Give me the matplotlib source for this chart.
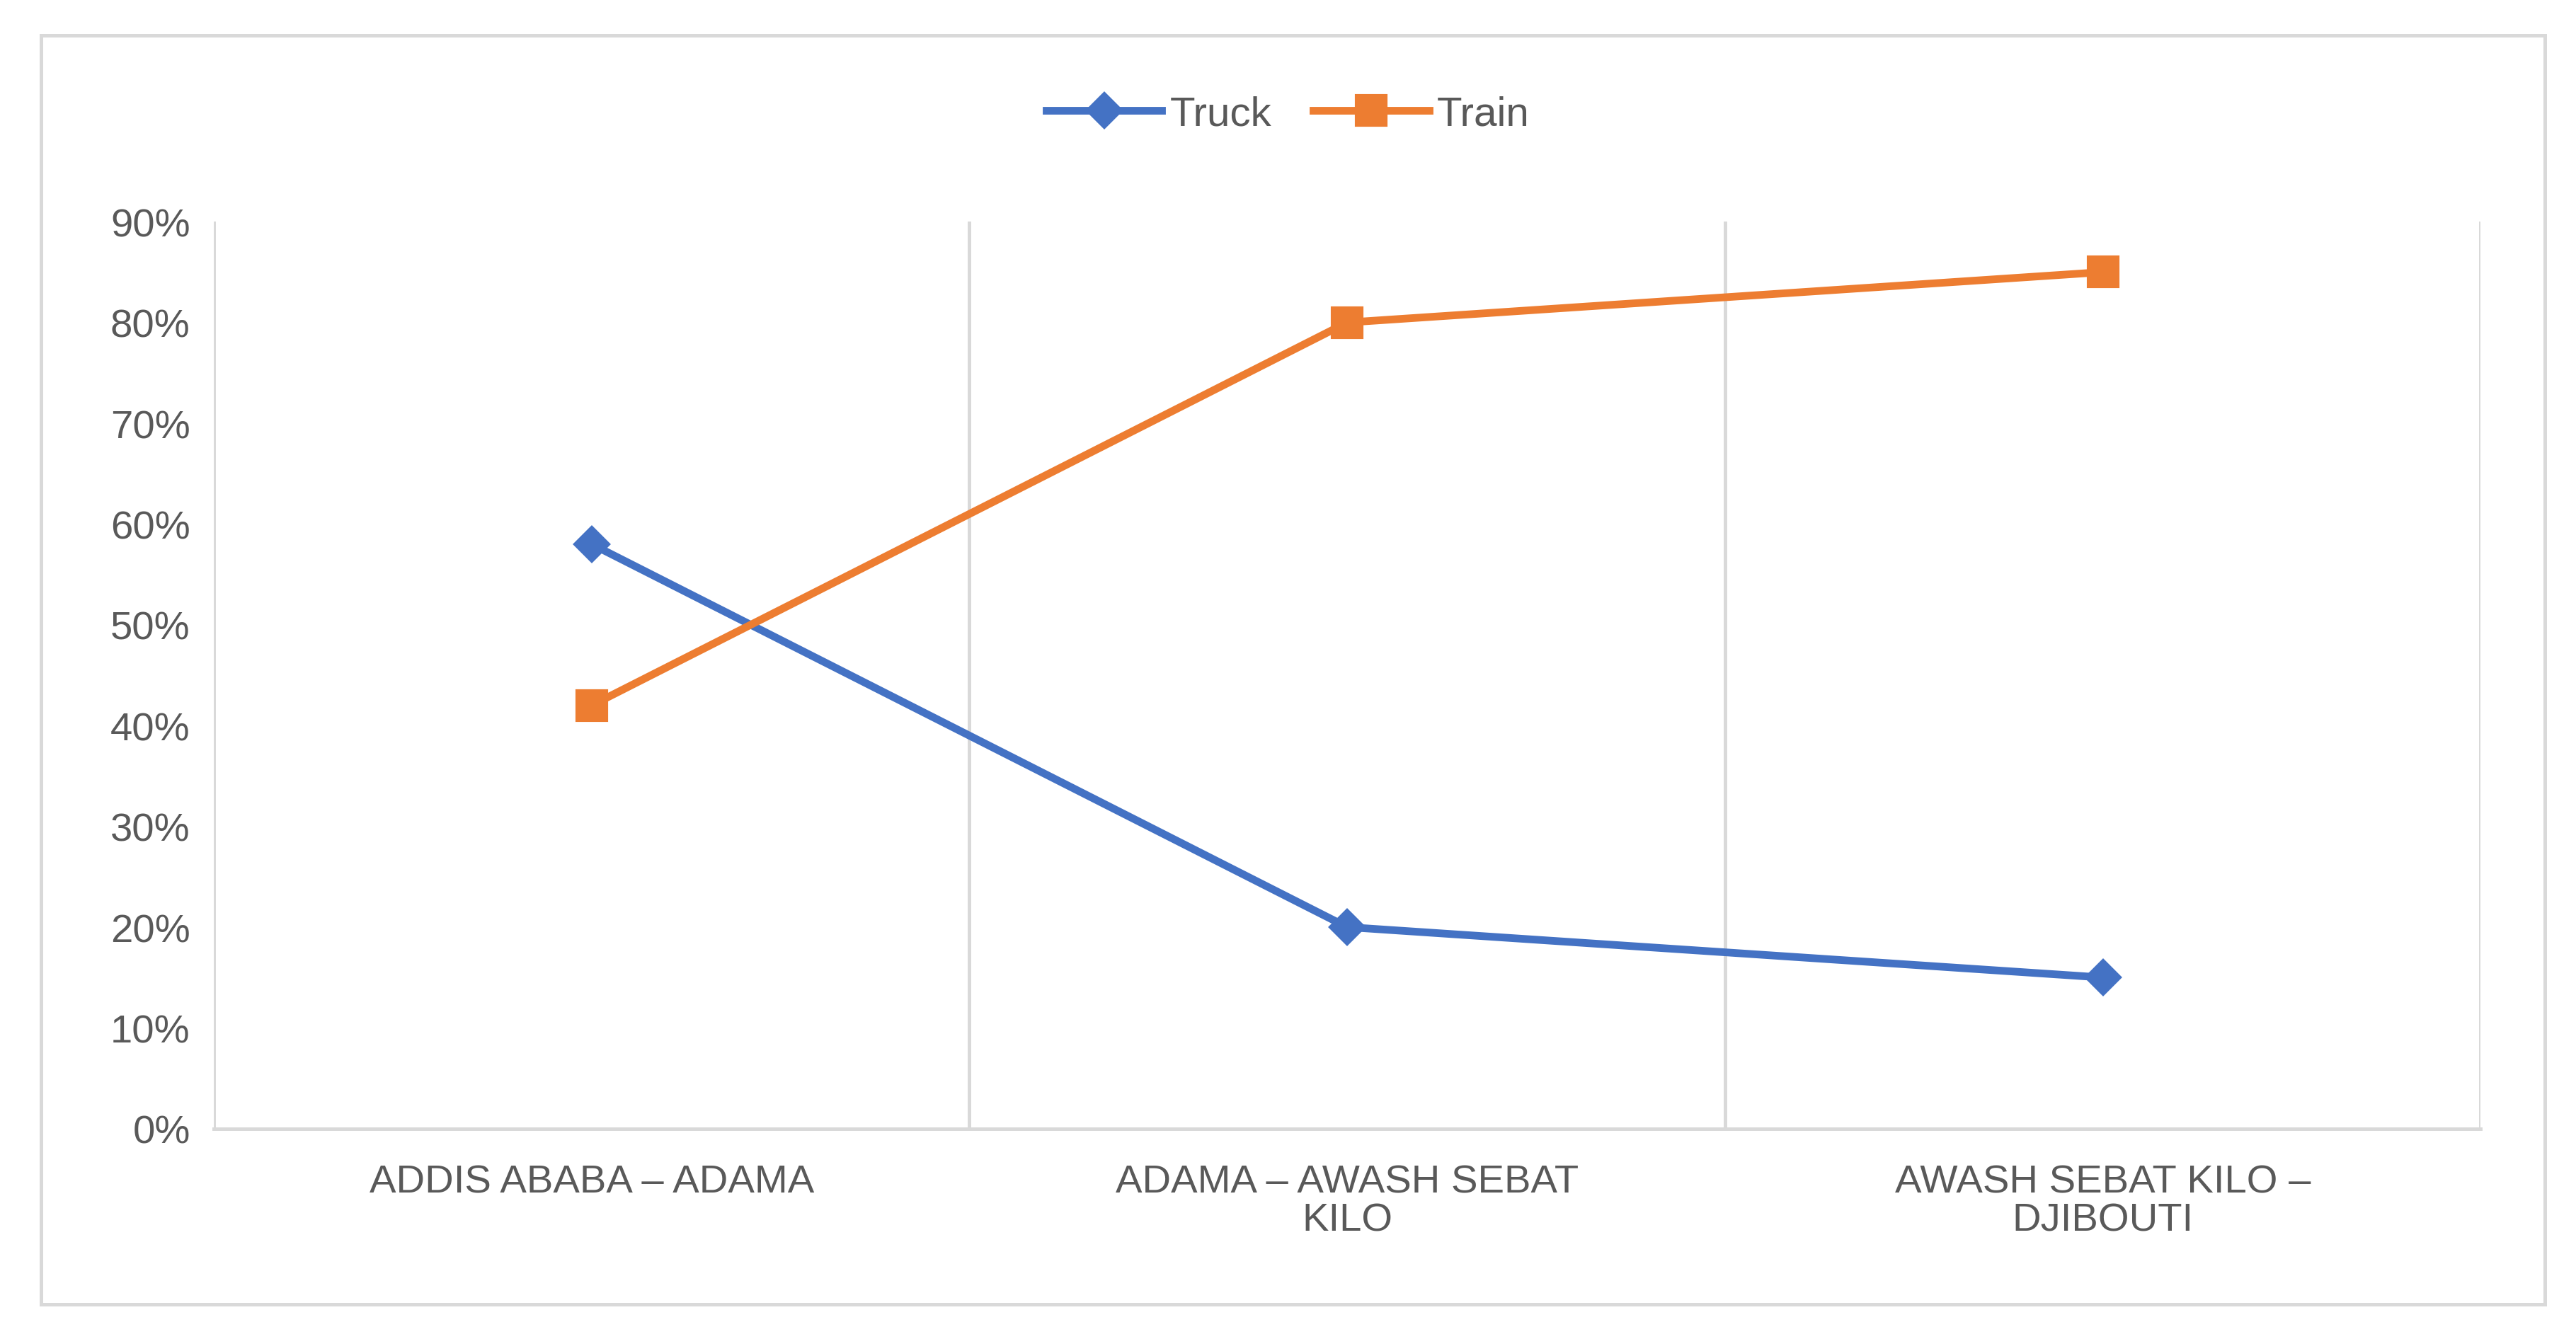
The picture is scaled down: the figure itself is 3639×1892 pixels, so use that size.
import matplotlib
matplotlib.use("Agg")
import matplotlib.pyplot as plt
from matplotlib.patches import Rectangle

# data
categories = ["ADDIS ABABA – ADAMA", "ADAMA – AWASH SEBAT\nKILO", "AWASH SEBAT KILO –\nDJIBOUTI"]
truck = [58, 20, 15]
train = [42, 80, 85]
yticks = [0, 10, 20, 30, 40, 50, 60, 70, 80, 90]

grey = "#595959"
plt.rcParams["font.family"] = ["Liberation Sans", "DejaVu Sans"]

fig = plt.figure(figsize=(3639 / 300, 1893 / 300), dpi=300)
ax = fig.add_axes([0.083, 0.157, 0.88, 0.677])

x = list(range(len(categories)))
ax.plot(x, truck, color="#4472C4", lw=2.6, marker="D", ms=8, label="Truck")
ax.plot(x, train, color="#ED7D31", lw=2.6, marker="s", ms=10, label="Train")

ax.set_xlim(-0.5, 2.5)
ax.set_ylim(0, 90)
ax.set_yticks(yticks)
ax.set_yticklabels([f"{v}%" for v in yticks], color=grey, fontsize=13.5)
ax.set_xticks(x)
ax.set_xticklabels(categories, color=grey, fontsize=13.5, linespacing=1.05)
ax.tick_params(length=0, pad=8)
ax.tick_params(axis="x", pad=12)

for xv in [-0.5, 0.5, 1.5, 2.5]:
    ax.axvline(xv, color="#D9D9D9", lw=1.2, zorder=0)
for s in ["top", "right", "left"]:
    ax.spines[s].set_visible(False)
ax.spines["bottom"].set_color("#D9D9D9")
ax.spines["bottom"].set_linewidth(1.2)

fig.legend(loc="center", bbox_to_anchor=(0.5, 0.914), ncol=2, frameon=False,
           fontsize=14, labelcolor=grey, handlelength=2.8, columnspacing=1.0,
           handletextpad=0.2)

fig.patches.append(Rectangle((0.016, 0.026), 0.972, 0.947, transform=fig.transFigure,
                             fill=False, edgecolor="#D9D9D9", lw=1.2))

fig.savefig("out.png", dpi=300, facecolor="white")
